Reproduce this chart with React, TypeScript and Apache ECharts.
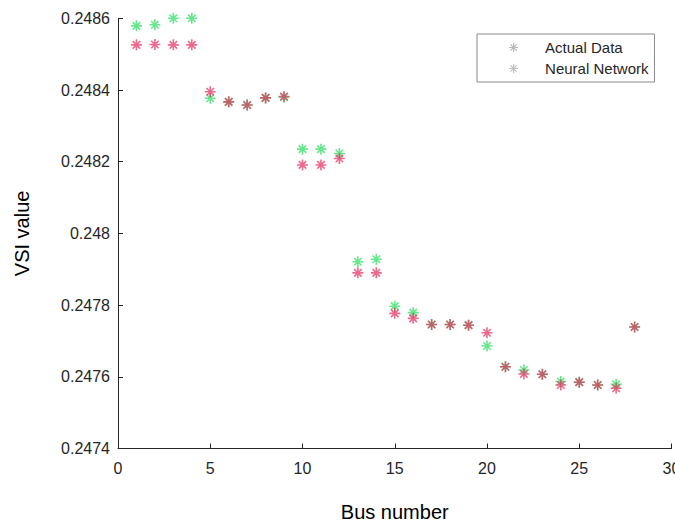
import React, { useEffect, useRef } from "react";
import * as echarts from "echarts";

const busNumbers = [1, 2, 3, 4, 5, 6, 7, 8, 9, 10, 11, 12, 13, 14, 15, 16, 17, 18, 19, 20, 21, 22, 23, 24, 25, 26, 27, 28];
const actualData = [
  0.248579, 0.248582, 0.2486, 0.2486, 0.248377, 0.248367, 0.248358, 0.248378, 0.24838,
  0.248235, 0.248235, 0.248223, 0.247921, 0.247928, 0.247797, 0.247779, 0.247746, 0.247746,
  0.247744, 0.247686, 0.247628, 0.247619, 0.247607, 0.247587, 0.247585, 0.247577, 0.247579, 0.247739,
];
const neuralNetwork = [
  0.248526, 0.248527, 0.248526, 0.248526, 0.248395, 0.248367, 0.248358, 0.248378, 0.248382,
  0.248191, 0.248191, 0.248209, 0.24789, 0.24789, 0.247777, 0.247763, 0.247746, 0.247746,
  0.247744, 0.247723, 0.247628, 0.247608, 0.247607, 0.247577, 0.247585, 0.247577, 0.247568, 0.247739,
];
const seriesNames = ["Actual Data", "Neural Network"];

const STAR = "path://M5,0L5,10M0,5L10,5M1.6,1.6L8.4,8.4M1.6,8.4L8.4,1.6";

export default function App() {
  const ref = useRef<HTMLDivElement>(null);
  useEffect(() => {
    document.body.style.margin = "0";
    if (!ref.current) return;
    const chart = echarts.init(ref.current, undefined, { renderer: "svg" });
    const axisColor = "#262626";
    const font = "'Liberation Sans', Arial, Helvetica, sans-serif";
    chart.setOption({
      animation: false,
      backgroundColor: "#ffffff",
      grid: {
        left: 118,
        right: 3.5,
        top: 18.3,
        bottom: 77.5,
        containLabel: false,
        outerBoundsMode: "none",
      },
      legend: {
        orient: "vertical",
        left: 477,
        top: 34,
        padding: [6, 6, 6, 31.5],
        itemGap: 6,
        itemWidth: 9,
        itemHeight: 9,
        borderColor: "#8a8a8a",
        borderWidth: 1,
        backgroundColor: "#ffffff",
        textStyle: { fontFamily: font, fontSize: 15, color: "#262626", padding: [0, 0, 0, 22] },
        data: seriesNames.map((n) => ({
          name: n,
          icon: STAR,
          itemStyle: { color: "transparent", borderColor: "#a8a8a8", borderWidth: 1.2 },
        })),
      },
      xAxis: {
        type: "value",
        min: 0,
        max: 30,
        interval: 5,
        name: "Bus number",
        nameLocation: "middle",
        nameGap: 53,
        nameTextStyle: { fontFamily: font, fontSize: 20, color: "#000" },
        axisLine: { show: true, lineStyle: { color: axisColor, width: 1 } },
        axisTick: { show: true, inside: true, length: 5, lineStyle: { color: axisColor } },
        axisLabel: { fontFamily: font, fontSize: 16, color: axisColor, margin: 12 },
        splitLine: { show: false },
      },
      yAxis: {
        type: "value",
        min: 0.2474,
        max: 0.2486,
        interval: 0.0002,
        name: "VSI value",
        nameLocation: "middle",
        nameRotate: 90,
        nameGap: 86,
        nameTextStyle: { fontFamily: font, fontSize: 20, color: "#000" },
        axisLine: { show: true, lineStyle: { color: axisColor, width: 1 } },
        axisTick: { show: true, inside: true, length: 5, lineStyle: { color: axisColor } },
        axisLabel: {
          fontFamily: font,
          fontSize: 16,
          color: axisColor,
          margin: 8,
          formatter: (v: number) => String(parseFloat(v.toFixed(4))),
        },
        splitLine: { show: false },
      },
      series: [
        {
          name: seriesNames[0],
          type: "scatter",
          symbol: STAR,
          symbolSize: 11,
          data: busNumbers.map((b, i) => [b, actualData[i]]),
          itemStyle: { color: "transparent", borderColor: "#40e070", borderWidth: 1.6 },
        },
        {
          name: seriesNames[1],
          type: "scatter",
          symbol: STAR,
          symbolSize: 11,
          data: busNumbers.map((b, i) => [b, neuralNetwork[i]]),
          itemStyle: { color: "transparent", borderColor: "#e62a5c", borderWidth: 1.6, opacity: 0.7 },
        },
      ],
    });
    return () => chart.dispose();
  }, []);
  return <div ref={ref} style={{ width: 675, height: 526 }} />;
}
